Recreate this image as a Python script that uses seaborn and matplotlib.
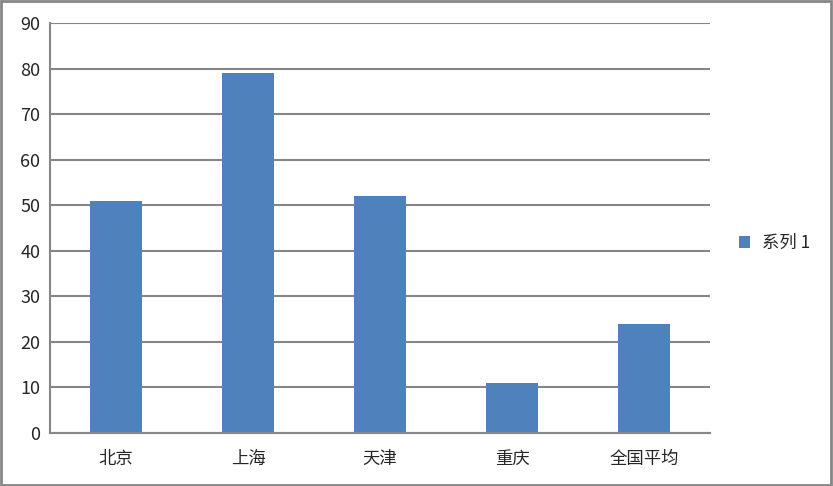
import matplotlib
matplotlib.use('Agg')
import matplotlib.pyplot as plt
import seaborn as sns
import pandas as pd
import numpy as np
from matplotlib.patches import Rectangle

# ── data ──────────────────────────────
cities = ['北京', '上海', '天津', '重庆', '全国平均']
values = [51, 79, 52, 11, 24]
series_name = '系列 1'
yticks = list(range(0, 100, 10))

sns.set_style('white')
plt.rcParams['font.family'] = ['Noto Sans CJK SC', 'DejaVu Sans']

grey = '#868686'
blue = '#4F81BD'

df = pd.DataFrame({'city': cities, 'value': values})

fig = plt.figure(figsize=(8.33, 4.86), dpi=100)
ax = fig.add_axes([50/833, 53/486, 660/833, 410/486])

sns.barplot(data=df, x='city', y='value', color=blue, width=0.4,
            saturation=1, linewidth=0, ax=ax, label=series_name)

ax.set_ylim(0, 90)
ax.set_xlim(-0.5, len(cities) - 0.5)
ax.set_yticks(yticks)
ax.set_xlabel('')
ax.set_ylabel('')
ax.set_axisbelow(True)
ax.yaxis.grid(True, color=grey, lw=1.5)
ax.xaxis.grid(False)

for s in ['top', 'right']:
    ax.spines[s].set_visible(False)
for s in ['left', 'bottom']:
    ax.spines[s].set_color(grey)
    ax.spines[s].set_linewidth(1.5)

ax.tick_params(axis='y', length=4, width=1.5, color=grey, labelsize=13, pad=3)
ax.tick_params(axis='x', which='major', length=0, labelsize=12.5, pad=12)
ax.set_xticks(np.arange(-0.5, len(cities), 1), minor=True)
ax.tick_params(axis='x', which='minor', length=5, width=1.5, color=grey)

leg = ax.legend(loc='center left', bbox_to_anchor=(723/833, 243/486),
                bbox_transform=fig.transFigure, frameon=False,
                fontsize=12.5, handlelength=0.65, handleheight=0.65,
                handletextpad=0.7)

# outer border
fig.patches.append(Rectangle((0.001, 0.002), 0.997, 0.996, transform=fig.transFigure,
                             fill=False, edgecolor=grey, lw=2))

fig.savefig('out.png', dpi=100)
